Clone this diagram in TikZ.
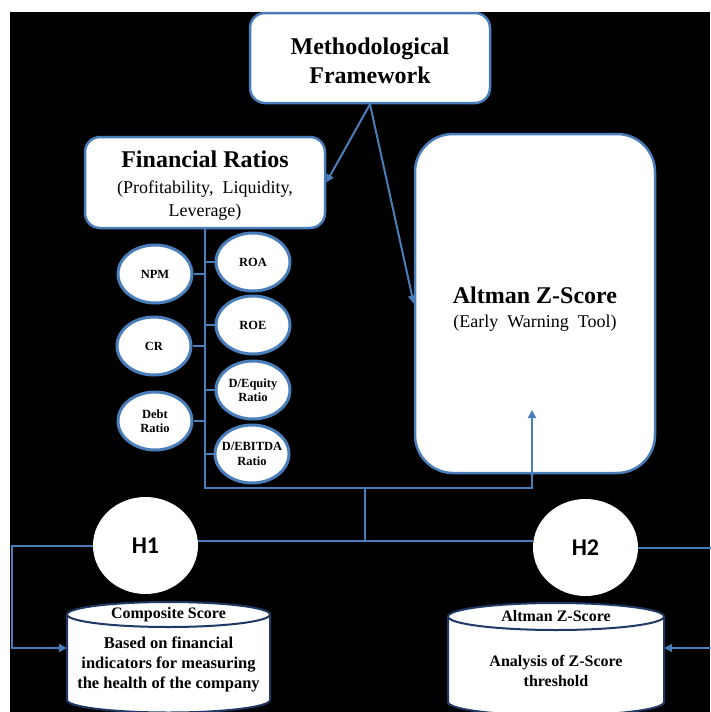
\documentclass[tikz,border=0pt]{standalone}
\usepackage{fontspec}
\setmainfont{Liberation Serif}
\newfontfamily\hfont{Carlito}
\usetikzlibrary{shapes.geometric,arrows.meta}
\definecolor{lblue}{HTML}{4A7EBB}
\definecolor{navy}{HTML}{1F3864}
\begin{document}
\begin{tikzpicture}[x=1pt,y=-1pt,
  rbox/.style={draw=lblue, line width=2.5pt, fill=white, rounded corners=15pt, align=center, inner sep=0pt},
  ratio/.style={ellipse, draw=lblue, line width=3pt, fill=white, minimum width=74pt, minimum height=58pt, inner xsep=-12pt, inner ysep=0pt, align=center, font=\fontsize{12.5}{14.5}\selectfont\bfseries},
  hnode/.style={ellipse, fill=white, minimum width=105pt, minimum height=97pt, inner sep=0pt, font=\hfont\bfseries\fontsize{24}{28}\selectfont},
  conn/.style={draw=lblue, line width=2pt},
  arr/.style={conn, -{Triangle[length=8pt,width=8pt]}},
  cyl/.style={draw=navy, line width=2pt, fill=white},
  cyltxt/.style={align=center, inner sep=0pt, font=\fontsize{16}{20}\selectfont\bfseries},
  cylbody/.style={inner sep=0pt, rectangle},
]
\useasboundingbox (0,0) rectangle (710,712);
\fill[white] (0,0) rectangle (710,712);
\fill[black] (10,12) rectangle (710,712);

% top boxes
\node[rbox, minimum width=240pt, minimum height=90pt, font=\fontsize{24}{29}\selectfont\bfseries] (MF) at (370,58) {};
\node[align=center, font=\fontsize{24}{29}\selectfont\bfseries] (MFt) at (370,60.5) {Methodological\\Framework};
\node[rbox, minimum width=240pt, minimum height=91pt] (FR) at (205,182.5) {};
\node[align=center, inner sep=0pt, font=\fontsize{18}{23}\selectfont] (FRt) at (205,185.5)
  {{\fontsize{24}{27}\selectfont\bfseries Financial Ratios}\\[3pt](Profitability,\ \ Liquidity,\\Leverage)};
\node[rbox, rounded corners=38pt, minimum width=240pt, minimum height=339pt] (AZ) at (535,303.5) {};
\node[align=center, inner sep=0pt, font=\fontsize{18}{23}\selectfont] (AZt) at (535,309.5)
  {{\fontsize{24}{27}\selectfont\bfseries Altman Z-Score}\\[1pt](Early\ \ Warning\ \ Tool)};

% ratio ellipses
\node[ratio] (NPM) at (155,274) {NPM};
\node[ratio] (CR) at (154,346) {CR};
\node[ratio] (DR) at (155,421) {Debt\\Ratio};
\node[ratio] (ROA) at (253,262) {ROA};
\node[ratio] (ROE) at (253,325) {ROE};
\node[ratio] (DEQ) at (253,390) {D/Equity\\Ratio};
\node[ratio] (DEB) at (252,454) {D/EBITDA\\Ratio};

% hypotheses
\node[hnode] (H1) at (145.5,545.5) {H1};
\node[hnode] (H2) at (585.5,547.5) {H2};

% cylinders
\path[cyl] (67,614.5) -- (67,700) arc[start angle=180,end angle=360,x radius=101.5pt,y radius=12.5pt] -- (270,614.5);
\path[cyl] (168.5,614.5) ellipse [x radius=101.5pt, y radius=12.5pt];
\node[cyltxt] (c1t) at (168.5,614.5) {Composite Score};
\node[cylbody, minimum width=203pt, minimum height=68pt] (cyl1) at (168.5,648) {};
\node[cyltxt, font=\fontsize{16.5}{20}\selectfont\bfseries] (c1b) at (168.5,664) {Based on financial\\indicators for measuring\\the health of the company};

\path[cyl] (448,616.5) -- (448,702) arc[start angle=180,end angle=360,x radius=108pt,y radius=13.5pt] -- (664,616.5);
\path[cyl] (556,616.5) ellipse [x radius=108pt, y radius=13.5pt];
\node[cyltxt] (c2t) at (556,616.5) {Altman Z-Score};
\node[cylbody, minimum width=216pt, minimum height=63pt] (cyl2) at (556,648) {};
\node[cyltxt, font=\fontsize{16}{19.5}\selectfont\bfseries] (c2b) at (556,671) {Analysis of Z-Score\\threshold};

% connectors
\coordinate (tb) at (205,488);
\coordinate (azin) at (532,410);
\coordinate (mid) at (365,488);
\coordinate (hl) at (365,541);

\draw[arr] (MF.south) -- (FR.east);
\draw[arr] (MF.south) -- (AZ.west);
\draw[arr] (FR.south) -- (tb) -| (azin);
\foreach \n in {ROA,ROE,DEQ,DEB} \draw[conn] (\n.west) -- (\n.west -| tb);
\foreach \n in {NPM,CR,DR} \draw[conn] (\n.east) -- (\n.east -| tb);
\draw[conn] (mid) -- (hl);
\draw[conn] (H1.east |- hl) -- (H2.west |- hl);
\draw[arr] (H1.west) -- ++(-81,0) |- (cyl1.west);
\draw[arr] (H2.east) -- ++(76,0) |- (cyl2.east);
\end{tikzpicture}
\end{document}
